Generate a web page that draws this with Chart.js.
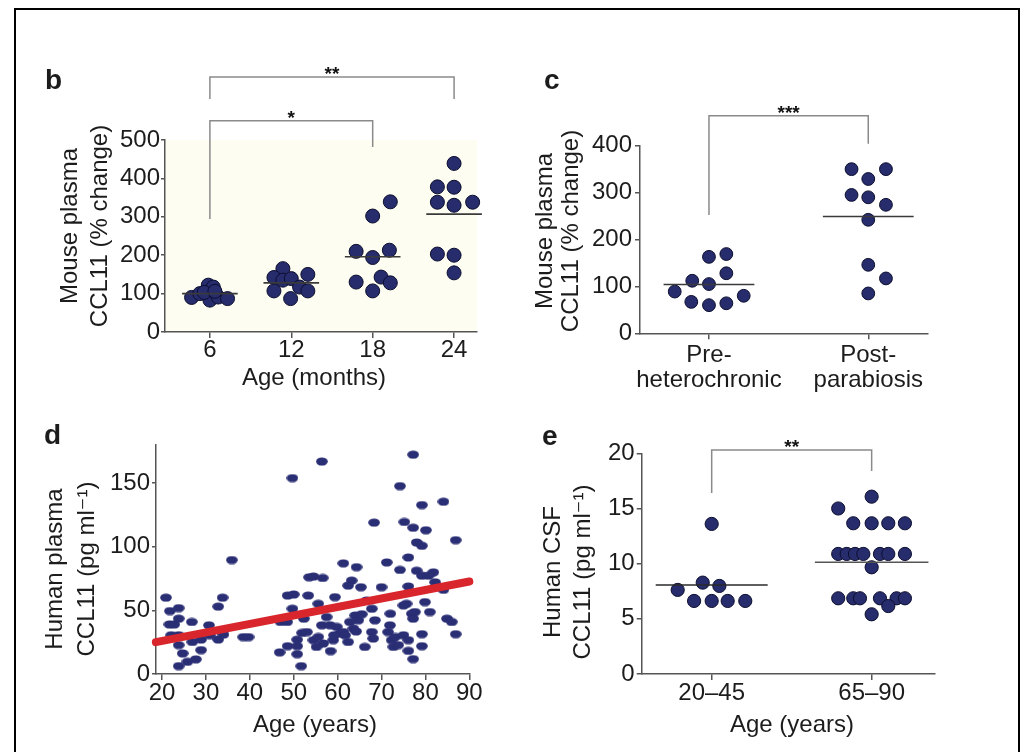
<!DOCTYPE html>
<html><head><meta charset="utf-8">
<script src="https://cdn.jsdelivr.net/npm/chart.js@4.4.1/dist/chart.umd.min.js"></script>
<style>
html,body{margin:0;padding:0;background:#fff;overflow:hidden;width:1027px;height:752px}
canvas{position:absolute;left:0;top:0}
#frame{position:absolute;left:14px;top:8px;width:1006px;height:800px;border:2px solid #000;box-sizing:border-box}
</style></head><body>
<div id="frame"></div>
<canvas id="cb" width="1027" height="752"></canvas>
<canvas id="cc" width="1027" height="752"></canvas>
<canvas id="cd" width="1027" height="752"></canvas>
<canvas id="ce" width="1027" height="752"></canvas>
<script>
// ---------------- DATA ----------------
// Panel b: mouse plasma CCL11 by age (months)
const bAges = [6, 12, 18, 24];
const bValues = [
  [90, 100, 122, 117, 83, 91, 87, 103, 106],
  [165, 142, 135, 139, 150, 107, 117, 107, 87],
  [339, 302, 210, 194, 213, 130, 143, 107, 128],
  [439, 378, 377, 338, 330, 338, 203, 200, 154]
];
const bJitter = [
  [-1.35, -0.74, -0.12, 0.25, 0, 0.61, 1.3, -0.42, 0.37],
  [-0.62, -1.28, -0.62, 0, 1.22, -1.28, 0.61, 1.22, -0.05],
  [1.3, 0, -1.22, 0, 1.23, -1.22, 0.62, 0, 1.3],
  [0, -1.23, 0, -1.23, 0, 1.37, -1.23, 0, 0]
];
const bMeans = [100, 128, 196, 307];
const bBrackets = [
  {from: 6, to: 24, top: 664, left: 607, right: 607, label: '**'},
  {from: 6, to: 18, top: 550, left: 294, right: 482, label: '*'}
];

// Panel c: pre-heterochronic vs post-parabiosis
const cLabels = [['Pre-', 'heterochronic'], ['Post-', 'parabiosis']];
const cPreValues = [163, 169, 128, 112, 105, 89, 80, 67, 60, 64];
const cPreJitter = [0, 0.109, 0.109, -0.105, 0, -0.215, 0.218, -0.111, 0, 0.109];
const cPostValues = [350, 350, 329, 295, 290, 274, 242, 146, 117, 85];
const cPostJitter = [-0.105, 0.111, 0, -0.105, 0, 0.111, 0, 0, 0.111, 0];
const cMeans = [104, 249];
const cBrackets = [{from: 0, to: 1, top: 464, left: 252, right: 404, label: '***'}];

// Panel d: human plasma CCL11 vs age
const dAges = [20.9, 21.8, 23.8, 21.7, 22.8, 23.8, 22.1, 23.8, 26.8, 23.8, 24.7, 23.8, 25.8, 26.9, 27.7, 28.9, 28.9, 30.7, 30.9, 32.8, 33.8, 32.8, 34.0, 35.9, 38.5, 39.7,
  46.8, 48.6, 50.8, 49.7, 48.6, 50.0, 49.7, 50.8, 51.7, 53.3, 47.0, 48.5, 52.3, 51.9, 53.0, 53.5, 50.8,
  56.4, 68.3, 61.3, 64.3, 71.2, 54.5, 56.6, 63.2, 62.4, 65.3, 70.0, 55.6, 59.4, 66.6, 67.8, 72.0, 57.5, 64.0, 64.7, 68.5, 56.4, 58.3, 59.8, 62.8, 63.6, 60.5, 61.3, 54.5, 55.6, 56.7, 55.2, 59.0, 62.4, 67.8, 68.1, 66.2, 58.4, 71.5, 72.3, 72.7, 65.5, 64.2, 59.2, 61.7,
  77.2, 74.2, 79.2, 84.1, 75.2, 77.2, 80.1, 86.9, 78.0, 79.2, 76.1, 74.2, 78.0, 79.2, 81.8, 80.7, 82.2, 84.1, 76.1, 75.7, 75.0, 79.9, 81.0, 77.6, 76.9, 77.2, 84.9, 86.0, 71.9, 73.1, 75.0, 76.1, 79.2, 79.2, 76.1, 77.2, 86.9, 73.8];
const dValues = [60, 49.5, 51.8, 39, 39, 43.5, 30.5, 30.5, 40.9, 22.7, 16.2, 6.2, 9.6, 25.2, 11.5, 18.8, 27.1, 38.3, 30.5, 53, 60, 27.1, 31, 89.6, 29, 29,
  17, 21.9, 21.9, 51.3, 61.7, 62.5, 154, 15.6, 6.2, 61.7, 40.9, 40.9, 43.5, 32.3, 33, 76, 27,
  167, 119, 87, 84, 87.7, 76.6, 75.5, 73.4, 69.5, 68.2, 68.2, 55.2, 60.4, 57.8, 51.3, 47.4, 44.8, 46, 42.2, 42.2, 38.3, 38.3, 37, 40.9, 35.7, 31.8, 33, 26.6, 29.1, 24, 21.3, 26.6, 25.2, 33, 27.9, 21.3, 18, 33, 26.6, 21.3, 47, 33.5, 30.5, 30.5,
  172.4, 147.7, 132.8, 135.4, 119.5, 115, 113, 105.2, 103.4, 100.8, 91.6, 81.8, 81.2, 77.3, 79.9, 77.3, 72.1, 66.2, 68.8, 55.2, 53.9, 56.5, 48.7, 48.7, 47.4, 43.5, 43.5, 40.9, 38.3, 29.1, 30.5, 26.6, 31.3, 21.9, 18.2, 11.7, 31.3, 22.7];
const dFitAges = [18.6, 90.0];
const dFitValues = [25, 72.7];

// Panel e: human CSF CCL11 by age group
const eLabels = ['20\u201345', '65\u201390'];
const eYoungValues = [13.6, 7.62, 8.28, 7.98, 6.62, 6.62, 6.62, 6.62];
const eYoungJitter = [0, -0.2125, -0.056, 0.048, -0.11, 0, 0.1, 0.21];
const eOldValues = [16.07, 15.0, 13.66, 13.66, 13.66, 13.66, 10.88, 10.88, 10.88, 10.88, 10.88, 10.88, 10.88, 9.67, 6.86, 6.86, 6.86, 6.86, 6.86, 6.86, 6.16, 5.41];
const eOldJitter = [0, -0.209, -0.115, 0, 0.104, 0.208, -0.209, -0.156, -0.104, -0.052, 0.052, 0.104, 0.208, 0, -0.209, -0.115, -0.073, 0.052, 0.156, 0.208, 0.104, 0];
const eMeans = [8.07, 10.13];
const eBrackets = [{from: 0, to: 1, top: 20.3, left: 16.4, right: 18.4, label: '**'}];

// ---------------- STYLE / HELPERS ----------------
const W = 1027, H = 752;
const FONT = "'Liberation Sans', Arial, Helvetica, 'DejaVu Sans', sans-serif";
const TXT = '#1c1c1c', AX = '#555555';
const DOT = '#272c6d', DOTB = '#0c0e2e';

const overlay = {
  id: 'overlay',
  beforeDraw(chart, args, o) {
    if (o.bg) {
      const a = chart.chartArea, ctx = chart.ctx;
      ctx.save(); ctx.fillStyle = o.bg;
      ctx.fillRect(a.left, a.top, a.right - a.left, a.bottom - a.top);
      ctx.restore();
    }
  },
  afterDraw(chart, args, o) {
    const ctx = chart.ctx, xs = chart.scales.x, ys = chart.scales.y;
    (o.brackets || []).forEach(b => {
      const x1 = xs.getPixelForValue(b.from), x2 = xs.getPixelForValue(b.to);
      const yt = ys.getPixelForValue(b.top), yl = ys.getPixelForValue(b.left), yr = ys.getPixelForValue(b.right);
      ctx.save();
      ctx.strokeStyle = '#8a8a8a'; ctx.lineWidth = 1.5;
      ctx.beginPath(); ctx.moveTo(x1, yl); ctx.lineTo(x1, yt); ctx.lineTo(x2, yt); ctx.lineTo(x2, yr); ctx.stroke();
      ctx.fillStyle = '#111'; ctx.font = 'bold 19px ' + FONT;
      ctx.textAlign = 'center'; ctx.textBaseline = 'alphabetic';
      ctx.fillText(b.label, (x1 + x2) / 2, yt + 3);
      ctx.restore();
    });
    (o.texts || []).forEach(t => {
      ctx.save();
      ctx.fillStyle = TXT; ctx.font = t.font || ('24px ' + FONT);
      ctx.textAlign = t.align || 'center'; ctx.textBaseline = t.base || 'middle';
      ctx.translate(t.x, t.y);
      if (t.rot) ctx.rotate(t.rot);
      ctx.fillText(t.text, 0, 0);
      ctx.restore();
    });
  }
};

function axis(min, max, step, tl, pad, extraTicks, extra) {
  return Object.assign({
    type: 'linear', min: min, max: max,
    ticks: Object.assign({stepSize: step, includeBounds: false, padding: pad, color: TXT,
      font: {family: FONT, size: 24, lineHeight: 1.05}, autoSkip: false, maxRotation: 0, minRotation: 0}, extraTicks || {}),
    grid: {display: true, drawOnChartArea: false, drawTicks: true, tickLength: tl, color: AX, lineWidth: 1.5},
    border: {display: true, color: AX, width: 1.5},
    title: {display: false}
  }, extra || {});
}

function make(id, area, xH, xs, ys, datasets, plug) {
  const yW = 80;
  xs.afterFit = s => { s.height = xH; };
  ys.afterFit = s => { s.width = yW; };
  return new Chart(document.getElementById(id), {
    type: 'scatter',
    data: {datasets: datasets},
    options: {
      responsive: false, animation: false, events: [],
      layout: {padding: {left: area.l - yW, top: area.t, right: W - area.r, bottom: H - area.b - xH}},
      scales: {x: xs, y: ys},
      plugins: {legend: {display: false}, tooltip: {enabled: false}, overlay: plug}
    },
    plugins: [overlay]
  });
}

function dots(center, values, jitter, r) {
  const pts = values.map((v, i) => ({x: center + jitter[i], y: v}));
  return {data: pts, pointRadius: r, pointBackgroundColor: DOT, pointBorderColor: DOTB, pointBorderWidth: 1, order: 2, clip: false};
}
function meanLine(center, m, hw, color) {
  return {data: [{x: center - hw, y: m}, {x: center + hw, y: m}], showLine: true, pointRadius: 0,
    borderColor: color || '#3a3a3a', borderWidth: 1.6, order: 0, clip: false};
}
function catAxis(positions, labels, min, max, tl, pad) {
  return axis(min, max, 1, tl, pad, {callback: (v, i) => labels[i]},
    {afterBuildTicks: s => { s.ticks = positions.map(p => ({value: p})); }});
}
const LETTER = 'bold 28px ' + FONT;

// ---------------- PANEL b ----------------
(function () {
  const ds = [];
  bAges.forEach((a, g) => ds.push(dots(a, bValues[g], bJitter[g], 7)));
  bAges.forEach((a, g) => ds.push(meanLine(a, bMeans[g], 2.05)));
  const xs = catAxis(bAges, bAges.map(String), 2.69, 25.69, 6, 0);
  const ys = axis(0, 500, 100, 4, 1);
  make('cb', {l: 165, t: 140, r: 477, b: 332}, 50, xs, ys, ds, {
    bg: '#fdfdf1',
    brackets: bBrackets,
    texts: [
      {text: 'b', x: 45, y: 89, font: LETTER, align: 'left', base: 'alphabetic'},
      {text: 'Mouse plasma', x: 70, y: 226, rot: -Math.PI / 2},
      {text: 'CCL11 (% change)', x: 100, y: 226, rot: -Math.PI / 2},
      {text: 'Age (months)', x: 314, y: 378}
    ]
  });
})();

// ---------------- PANEL c ----------------
(function () {
  const ds = [
    dots(0, cPreValues, cPreJitter, 6.4),
    dots(1, cPostValues, cPostJitter, 6.4),
    meanLine(0, cMeans[0], 0.285),
    meanLine(1, cMeans[1], 0.285)
  ];
  const xs = catAxis([0, 1], cLabels, -0.433, 1.375, 6, 3.5);
  const ys = axis(0, 400, 100, 5, 3);
  make('cc', {l: 640, t: 145.7, r: 928, b: 333.3}, 75, xs, ys, ds, {
    brackets: cBrackets,
    texts: [
      {text: 'c', x: 544, y: 89, font: LETTER, align: 'left', base: 'alphabetic'},
      {text: 'Mouse plasma', x: 545, y: 231, rot: -Math.PI / 2},
      {text: 'CCL11 (% change)', x: 571, y: 231, rot: -Math.PI / 2}
    ]
  });
})();

// ---------------- PANEL d ----------------
(function () {
  const ell = document.createElement('canvas');
  ell.width = 12; ell.height = 9;
  const g = ell.getContext('2d');
  g.fillStyle = '#2a2e74';
  g.beginPath(); g.ellipse(6, 4.5, 5.8, 4.1, 0, 0, 2 * Math.PI); g.fill();
  const pts = dAges.map((a, i) => ({x: a, y: dValues[i]}));
  const fit = dFitAges.map((a, i) => ({x: a, y: dFitValues[i]}));
  const ds = [
    {data: pts, pointStyle: ell, pointRadius: 5, order: 2, clip: false},
    {data: fit, showLine: true, pointRadius: 0, borderColor: '#d8262c', borderWidth: 8, borderCapStyle: 'round', order: 0, clip: false}
  ];
  const xs = axis(18.63, 90.15, 10, 6, 1);
  const ys = axis(0, 180, 50, 4, 2);
  make('cd', {l: 156, t: 445, r: 470, b: 674}, 50, xs, ys, ds, {
    texts: [
      {text: 'd', x: 44, y: 444, font: LETTER, align: 'left', base: 'alphabetic'},
      {text: 'Human plasma', x: 55, y: 569, rot: -Math.PI / 2},
      {text: 'CCL11 (pg ml\u207B\u00B9)', x: 87, y: 569, rot: -Math.PI / 2},
      {text: 'Age (years)', x: 315, y: 725}
    ]
  });
})();

// ---------------- PANEL e ----------------
(function () {
  const ds = [
    dots(0, eYoungValues, eYoungJitter, 6.6),
    dots(1, eOldValues, eOldJitter, 6.6),
    meanLine(0, eMeans[0], 0.35, '#2a2a2a'),
    meanLine(1, eMeans[1], 0.355, '#555')
  ];
  const xs = catAxis([0, 1], eLabels, -0.4375, 1.396, 6, 1);
  const ys = axis(0, 20, 5, 5, 2);
  make('ce', {l: 641.7, t: 453.3, r: 935, b: 674}, 50, xs, ys, ds, {
    brackets: eBrackets,
    texts: [
      {text: 'e', x: 542, y: 445, font: LETTER, align: 'left', base: 'alphabetic'},
      {text: 'Human CSF', x: 553, y: 572, rot: -Math.PI / 2},
      {text: 'CCL11 (pg ml\u207B\u00B9)', x: 583, y: 572, rot: -Math.PI / 2},
      {text: 'Age (years)', x: 792, y: 725}
    ]
  });
})();
</script>
</body></html>
